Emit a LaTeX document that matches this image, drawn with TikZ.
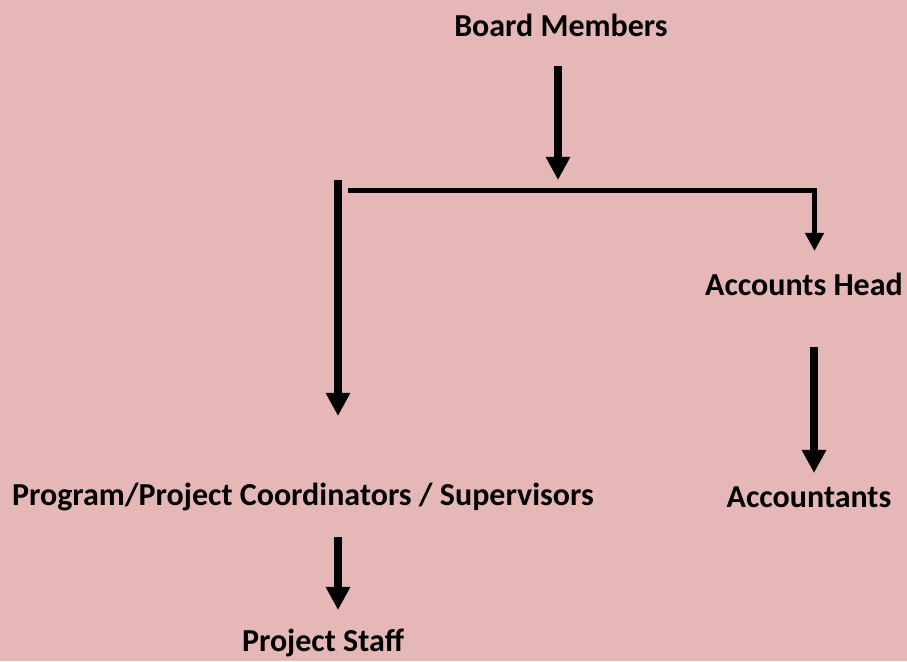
\documentclass[tikz,border=0pt]{standalone}
\usepackage{fontspec}
\setmainfont{Carlito}
\usetikzlibrary{arrows.meta}
\definecolor{bg}{HTML}{E5B7B7}
\begin{document}
\begin{tikzpicture}[x=1pt,y=1pt,
  lbl/.style={font=\fontsize{32}{36}\selectfont\bfseries, inner sep=0pt, anchor=center},
  bigarrow/.style={line width=8pt, -{Triangle[width=23pt,length=23pt]}},
  thinarrow/.style={line width=5pt, line join=miter, -{Triangle[width=18pt,length=18pt]}}]
\fill[bg] (0,0) rectangle (907,661);
\useasboundingbox (0,0) rectangle (907,661);
% labels
\node[lbl] (board) at (561,636) {Board Members};
\node[lbl] (acchead) at (804,377) {Accounts Head};
\node[lbl] (prog) at (303,164) {Program/Project Coordinators / Supervisors};
\node[lbl] (accts) at (809,164) {Accountants};
\node[lbl] (staff) at (323,18) {Project Staff};
% connector points
\coordinate (b1) at (558,595);
\coordinate (b2) at (558,481);
\coordinate (h1) at (348,470.5);
\coordinate (h2) at (814.5,470.5);
\coordinate (h3) at (814.5,410);
\coordinate (l1) at (338,481);
\coordinate (l2) at (338,245);
\coordinate (r1) at (814,314);
\coordinate (r2) at (814,188);
\coordinate (p1) at (338,124);
\coordinate (p2) at (338,51);
% connectors
\draw[bigarrow] (b1) -- (b2);
\draw[thinarrow] (h1) -- (h2) -- (h3);
\draw[bigarrow] (l1) -- (l2);
\draw[bigarrow] (r1) -- (r2);
\draw[bigarrow] (p1) -- (p2);
\end{tikzpicture}
\end{document}
